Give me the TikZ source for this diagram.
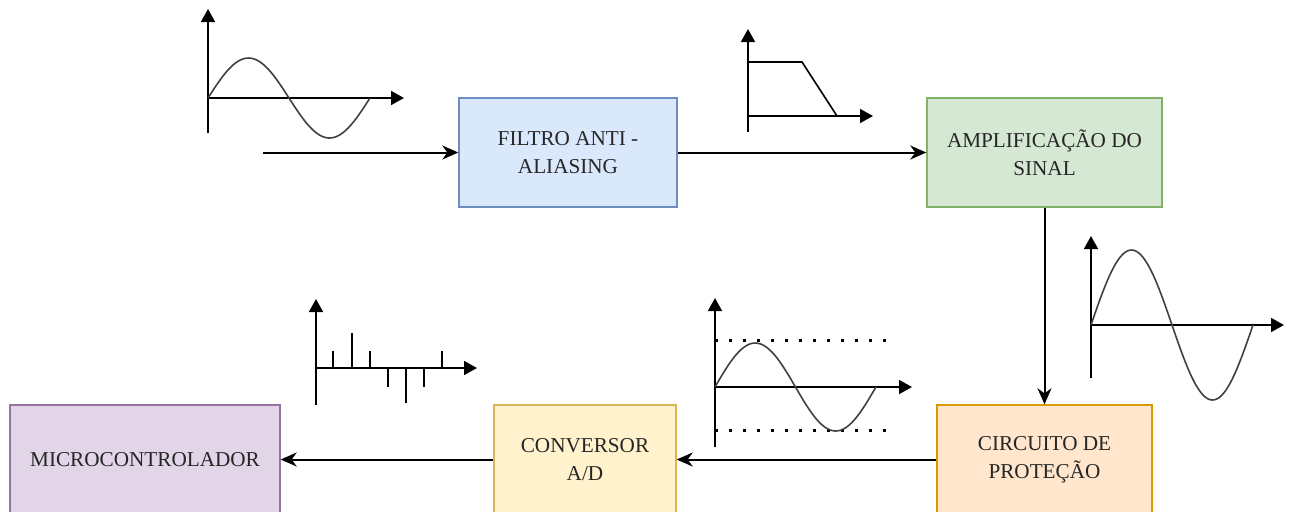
\documentclass[tikz,border=0pt]{standalone}
\usepackage{fontspec}
\setmainfont{Liberation Serif}
\usetikzlibrary{arrows.meta,positioning}

\definecolor{azulfill}{HTML}{DAE8FC}\definecolor{azulline}{HTML}{6C8EBF}
\definecolor{verdefill}{HTML}{D5E8D4}\definecolor{verdeline}{HTML}{82B366}
\definecolor{laranjafill}{HTML}{FFE6CC}\definecolor{laranjaline}{HTML}{D79B00}
\definecolor{amarelofill}{HTML}{FFF2CC}\definecolor{amareloline}{HTML}{D6B656}
\definecolor{roxofill}{HTML}{E1D5E7}\definecolor{roxoline}{HTML}{9673A6}

\begin{document}
\begin{tikzpicture}[
    x=0.5pt, y=-0.5pt,
    bloco/.style={draw, minimum height=54.5pt, align=center, line width=0.7pt, text=black!85, font=\fontsize{10.6}{14}\selectfont},
    seta/.style={-{Stealth[length=8pt,width=7pt,inset=2.5pt]}, line width=1pt},
    eixo/.style={-{Triangle[length=6.5pt,width=7pt]}, line width=0.8pt},
    onda/.style={line width=0.8pt, black!75},
    pontos/.style={line width=1.5pt, dash pattern=on 1.5pt off 5.5pt}
]
\useasboundingbox (0,0) rectangle (1291,511);

% Blocks
\node[bloco, fill=azulfill, draw=azulline, minimum width=109pt] (filtro) at (568,152.5) {FILTRO ANTI -\\ALIASING};
\node[bloco, fill=verdefill, draw=verdeline, minimum width=117.5pt] (amplif) at (1044.5,152.5) {AMPLIFICAÇÃO DO\\SINAL};
\node[bloco, fill=laranjafill, draw=laranjaline, minimum width=107.5pt] (protecao) at (1044.5,459.5) {CIRCUITO DE\\PROTEÇÃO};
\node[bloco, fill=amarelofill, draw=amareloline, minimum width=91pt] (conversor) at (585,459.5) {CONVERSOR\\A/D};
\node[bloco, fill=roxofill, draw=roxoline, minimum width=135pt] (micro) at (145,459.5) {MICROCONTROLADOR};

% Input
\coordinate (entrada) at (263,152.5);

% Arrows
\draw[seta] (entrada) -- (filtro);
\draw[seta] (filtro) -- (amplif);
\draw[seta] (amplif) -- (protecao);
\draw[seta] (protecao) -- (conversor);
\draw[seta] (conversor) -- (micro);

% Input signal
\draw[eixo] (208,133) -- (208,9);
\draw[eixo] (208,98) -- (404,98);
\draw[onda] plot[domain=0:360, samples=60] ({208+0.45*\x},{98-40*sin(\x)});

% Filter response
\draw[eixo] (748,132) -- (748,29);
\draw[eixo] (748,116) -- (873,116);
\draw[line width=0.8pt] (748,62) -- (802,62) -- (837,116);

% Amplified signal
\draw[eixo] (1091,378) -- (1091,236);
\draw[eixo] (1091,325) -- (1284,325);
\draw[onda] plot[domain=0:360, samples=80] ({1091+0.45*\x},{325-75*sin(\x)});

% Limited signal
\draw[eixo] (715,447) -- (715,298);
\draw[eixo] (715,387) -- (912,387);
\draw[pontos] (715,340) -- (893,340);
\draw[pontos] (715,430) -- (893,430);
\draw[onda] plot[domain=0:360, samples=60] ({715+0.447*\x},{387-44*sin(\x)});

% Sampled signal
\draw[eixo] (316,405) -- (316,299);
\draw[eixo] (316,368) -- (477,368);
\foreach \px/\py in {333/351, 352/333, 370/351, 388/387, 406/403, 424/387, 442/351}
    \draw[line width=0.8pt] (\px,368) -- (\px,\py);

\end{tikzpicture}
\end{document}
